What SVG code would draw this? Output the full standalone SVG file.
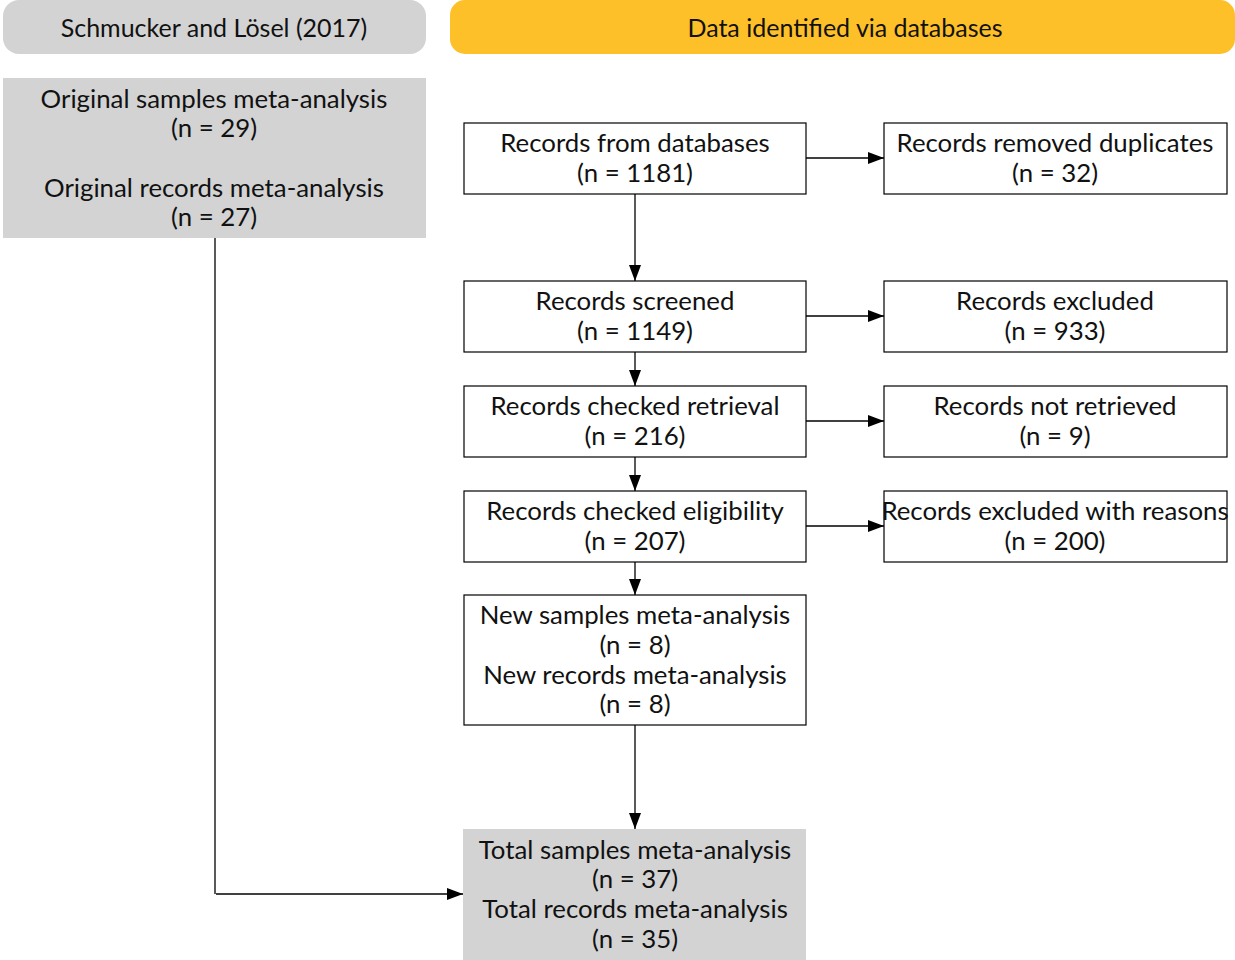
<svg xmlns="http://www.w3.org/2000/svg" width="1235" height="960" viewBox="0 0 1235 960">
<defs>
<marker id="ah" viewBox="0 0 16 12" refX="16" refY="6" markerWidth="16" markerHeight="12" markerUnits="userSpaceOnUse" orient="auto">
<path d="M0,0 L16,6 L0,12 z" fill="#000"/>
</marker>
<style>
text{font-family:Lato,"Noto Sans",sans-serif;font-size:25.8px;fill:#111;text-anchor:middle;dominant-baseline:central}
.hd{font-size:25px}
.box{fill:#fff;stroke:#000;stroke-width:1.2}
.grey{fill:#d3d3d3}
.ln{stroke:#000;stroke-width:1.3;fill:none}
.ar{stroke:#000;stroke-width:1.3;fill:none;marker-end:url(#ah)}
</style>
</defs>
<rect width="1235" height="960" fill="#fff"/>
<g id="hdr-left"><rect x="3" y="0" width="423" height="54" rx="16" class="grey"/><text class="hd" x="214" y="27">Schmucker and Lösel (2017)</text></g>
<g id="hdr-right"><rect x="450" y="0" width="785" height="54" rx="15" fill="#fec028"/><text class="hd" x="845" y="27">Data identified via databases</text></g>
<g id="orig"><rect x="3" y="78" width="423" height="160" class="grey"/>
<text x="214" y="98">Original samples meta-analysis</text><text x="214" y="127">(n = 29)</text>
<text x="214" y="187">Original records meta-analysis</text><text x="214" y="216">(n = 27)</text></g>
<g id="n1"><rect x="464" y="123" width="342" height="71" class="box"/><text x="635" y="142">Records from databases</text><text x="635" y="172">(n = 1181)</text></g>
<g id="n1r"><rect x="884" y="123" width="343" height="71" class="box"/><text x="1055" y="142">Records removed duplicates</text><text x="1055" y="172">(n = 32)</text></g>
<g id="n2"><rect x="464" y="281" width="342" height="71" class="box"/><text x="635" y="300">Records screened</text><text x="635" y="330">(n = 1149)</text></g>
<g id="n2r"><rect x="884" y="281" width="343" height="71" class="box"/><text x="1055" y="300">Records excluded</text><text x="1055" y="330">(n = 933)</text></g>
<g id="n3"><rect x="464" y="386" width="342" height="71" class="box"/><text x="635" y="405">Records checked retrieval</text><text x="635" y="435">(n = 216)</text></g>
<g id="n3r"><rect x="884" y="386" width="343" height="71" class="box"/><text x="1055" y="405">Records not retrieved</text><text x="1055" y="435">(n = 9)</text></g>
<g id="n4"><rect x="464" y="491" width="342" height="71" class="box"/><text x="635" y="510">Records checked eligibility</text><text x="635" y="540">(n = 207)</text></g>
<g id="n4r"><rect x="884" y="491" width="343" height="71" class="box"/><text x="1055" y="510">Records excluded with reasons</text><text x="1055" y="540">(n = 200)</text></g>
<g id="n5"><rect x="464" y="595" width="342" height="130" class="box"/><text x="635" y="614">New samples meta-analysis</text><text x="635" y="644">(n = 8)</text><text x="635" y="674">New records meta-analysis</text><text x="635" y="703">(n = 8)</text></g>
<g id="total"><rect x="463" y="829" width="343" height="140" class="grey"/><text x="635" y="849">Total samples meta-analysis</text><text x="635" y="878">(n = 37)</text><text x="635" y="908">Total records meta-analysis</text><text x="635" y="938">(n = 35)</text></g>
<g id="connectors">
<path class="ar" d="M806,158 H884"/>
<path class="ar" d="M806,316 H884"/>
<path class="ar" d="M806,421 H884"/>
<path class="ar" d="M806,526 H884"/>
<path class="ar" d="M635,194 V281"/>
<path class="ar" d="M635,352 V386"/>
<path class="ar" d="M635,457 V491"/>
<path class="ar" d="M635,562 V595"/>
<path class="ar" d="M635,725 V829"/>
<path class="ln" d="M215,238 V894"/>
<path class="ar" d="M216,894 H463"/>
</g>
</svg>
